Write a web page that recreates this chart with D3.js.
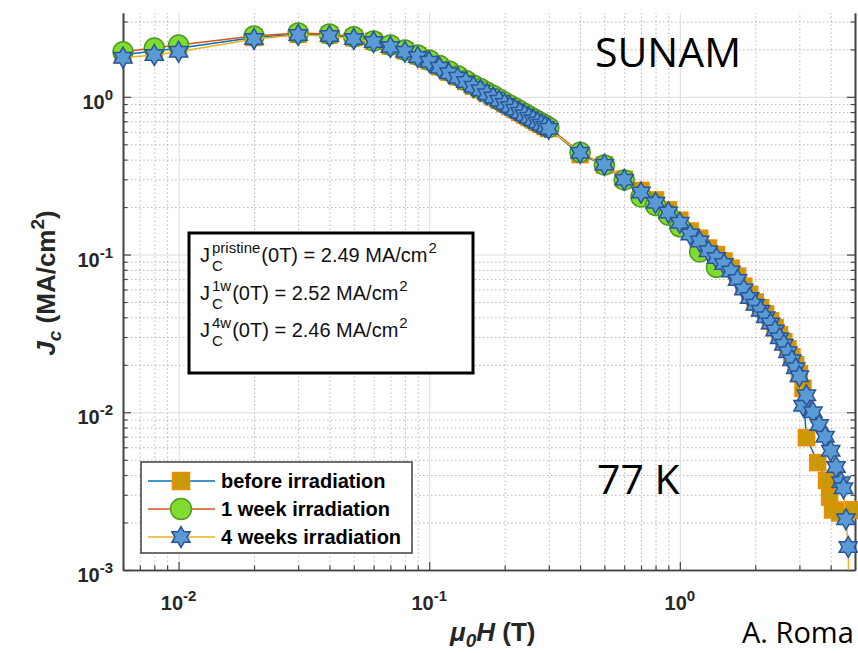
<!DOCTYPE html>
<html>
<head>
<meta charset="utf-8">
<script src="https://cdn.jsdelivr.net/npm/d3@7"></script>
<style>
  body { margin: 0; background: #fff; }
  svg { display: block; }
</style>
</head>
<body>
<script>

// svg board properties
var dimensions = { width: 858, height: 653 };
var plot = { left: 123, right: 855, top: 13, bottom: 570 };

// axis ticks (log decades)
var xTicks = [0.01, 0.1, 1];
var xTickExp = ['-2', '-1', '0'];
var yTicks = [0.001, 0.01, 0.1, 1];
var yTickExp = ['-3', '-2', '-1', '0'];

var seriesNames = ['before irradiation', '1 week irradiation', '4 weeks irradiation'];

// before irradiation (squares)
var fieldPristine = [0.006, 0.008, 0.01, 0.02, 0.03, 0.04, 0.05, 0.06, 0.07, 0.08, 0.09, 0.1,
  0.11, 0.12, 0.13, 0.14, 0.15, 0.16, 0.17, 0.18, 0.19, 0.2, 0.21, 0.22, 0.23, 0.24, 0.25,
  0.26, 0.27, 0.28, 0.29, 0.3, 0.4, 0.5, 0.6, 0.7, 0.8, 0.9, 1.0,
  1.1, 1.2, 1.3, 1.4, 1.5, 1.6, 1.7, 1.8, 1.9, 2.0, 2.1, 2.2, 2.3, 2.4, 2.5, 2.6, 2.7, 2.8, 2.9, 3.0,
  3.1, 3.2, 3.55, 3.85, 3.96, 4.07, 4.34, 4.75, 4.95];
var jcPristine = [1.85, 1.95, 2.03, 2.38, 2.49, 2.47, 2.37, 2.25, 2.10, 1.96, 1.82, 1.69,
  1.55, 1.43, 1.34, 1.25, 1.17, 1.11, 1.05, 1.0, 0.95, 0.905, 0.868, 0.832, 0.798, 0.768, 0.74,
  0.715, 0.69, 0.668, 0.648, 0.63, 0.43, 0.37, 0.30, 0.255, 0.222, 0.192, 0.165,
  0.141, 0.127, 0.110, 0.100, 0.091, 0.082, 0.073, 0.063, 0.056, 0.050, 0.046, 0.042, 0.038, 0.0345,
  0.031, 0.028, 0.0252, 0.0225, 0.020, 0.0176,
  0.0142, 0.0069, 0.0048, 0.0037, 0.0029, 0.0024, 0.0023, 0.0024, 0.0024];

// 1 week irradiation (circles)
var field1w = [0.006, 0.008, 0.01, 0.02, 0.03, 0.04, 0.05, 0.06, 0.07, 0.08, 0.09, 0.1,
  0.11, 0.12, 0.13, 0.14, 0.15, 0.16, 0.17, 0.18, 0.19, 0.2, 0.21, 0.22, 0.23, 0.24, 0.25,
  0.26, 0.27, 0.28, 0.29, 0.3, 0.4, 0.5, 0.6, 0.7, 0.8, 0.9, 1.0, 1.2, 1.4];
var jc1w = [1.93, 2.04, 2.13, 2.43, 2.54, 2.50, 2.40, 2.26, 2.13, 1.98, 1.84, 1.71,
  1.58, 1.46, 1.36, 1.27, 1.19, 1.13, 1.07, 1.02, 0.97, 0.925, 0.885, 0.85, 0.815, 0.785, 0.755,
  0.73, 0.705, 0.682, 0.662, 0.64, 0.445, 0.37, 0.297, 0.232, 0.205, 0.178, 0.150, 0.104, 0.083];

// 4 weeks irradiation (stars)
var field4w = [0.006, 0.008, 0.01, 0.02, 0.03, 0.04, 0.05, 0.06, 0.07, 0.08, 0.09, 0.1,
  0.11, 0.12, 0.13, 0.14, 0.15, 0.16, 0.17, 0.18, 0.19, 0.2, 0.21, 0.22, 0.23, 0.24, 0.25,
  0.26, 0.27, 0.28, 0.29, 0.3, 0.4, 0.5, 0.6, 0.7, 0.8, 0.9, 1.0,
  1.1, 1.2, 1.3, 1.4, 1.5, 1.6, 1.7, 1.8, 1.9, 2.0, 2.1, 2.2, 2.3, 2.4, 2.5, 2.6, 2.7, 2.8, 2.9, 3.0,
  3.1, 3.2, 3.4, 3.6, 3.8, 4.0, 4.2, 4.4, 4.5, 4.6, 4.7, 4.75];
var jc4w = [1.77, 1.84, 1.93, 2.33, 2.47, 2.43, 2.33, 2.23, 2.07, 1.93, 1.79, 1.67,
  1.53, 1.41, 1.32, 1.24, 1.16, 1.10, 1.04, 0.99, 0.944, 0.90, 0.863, 0.828, 0.794, 0.764, 0.736,
  0.711, 0.687, 0.665, 0.646, 0.627, 0.442, 0.371, 0.298, 0.247, 0.213, 0.185, 0.159,
  0.134, 0.121, 0.105, 0.095, 0.087, 0.078, 0.069, 0.060, 0.053, 0.048, 0.044, 0.040, 0.0365, 0.033,
  0.0295, 0.0268, 0.024, 0.0214, 0.019, 0.0169,
  0.0110, 0.0128, 0.0100, 0.0083, 0.0070, 0.0057, 0.0045, 0.0036, 0.0033, 0.0021, 0.0014, 0.0004];

var lineColors = ['#0072BD', '#D95319', '#EDB120'];
var font = '"Liberation Sans", Arial, Helvetica, sans-serif';

var svg = d3.select('body').append('svg')
  .attr('width', dimensions.width)
  .attr('height', dimensions.height);

var x = d3.scaleLog().domain([0.006, 5]).range([plot.left, plot.right]);
var y = d3.scaleLog().domain([0.001, 3.4]).range([plot.bottom, plot.top]);

// minor tick positions (2..9 in each decade)
var minorOf = function(scale) {
  var dom = scale.domain(), out = [];
  [0.0001, 0.001, 0.01, 0.1, 1].forEach(function(dec) {
    for (var k = 2; k < 10; k++) {
      var v = +(dec * k).toPrecision(6);
      if (v >= dom[0] * 0.999 && v <= dom[1] * 1.001) out.push(v);
    }
  });
  return out;
};
var xMinor = minorOf(x), yMinor = minorOf(y);
var plotW = plot.right - plot.left, plotH = plot.bottom - plot.top;

// grid: minor dotted, major solid
svg.append('g').attr('transform', 'translate(0,' + plot.bottom + ')')
  .call(d3.axisBottom(x).tickValues(xMinor).tickSize(-plotH).tickFormat(''))
  .call(function(g) {
    g.select('.domain').remove();
    g.selectAll('line').attr('stroke', '#b5b5b5').attr('stroke-dasharray', '1.5,2.5');
  });
svg.append('g').attr('transform', 'translate(' + plot.left + ',0)')
  .call(d3.axisLeft(y).tickValues(yMinor).tickSize(-plotW).tickFormat(''))
  .call(function(g) {
    g.select('.domain').remove();
    g.selectAll('line').attr('stroke', '#b5b5b5').attr('stroke-dasharray', '1.5,2.5');
  });
svg.append('g').attr('transform', 'translate(0,' + plot.bottom + ')')
  .call(d3.axisBottom(x).tickValues(xTicks).tickSize(-plotH).tickFormat(''))
  .call(function(g) {
    g.select('.domain').remove();
    g.selectAll('line').attr('stroke', '#dcdcdc');
  });
svg.append('g').attr('transform', 'translate(' + plot.left + ',0)')
  .call(d3.axisLeft(y).tickValues(yTicks).tickSize(-plotW).tickFormat(''))
  .call(function(g) {
    g.select('.domain').remove();
    g.selectAll('line').attr('stroke', '#dcdcdc');
  });

// axes with inward ticks
var styleAxis = function(g) {
  g.select('.domain').attr('stroke', '#444').attr('stroke-width', 1.6);
  g.selectAll('line').attr('stroke', '#444').attr('stroke-width', 1.2);
};
svg.append('g').attr('transform', 'translate(0,' + plot.bottom + ')')
  .call(d3.axisBottom(x).tickValues(xTicks).tickSize(-8).tickSizeOuter(0).tickFormat(''))
  .call(styleAxis);
svg.append('g').attr('transform', 'translate(0,' + plot.bottom + ')')
  .call(d3.axisBottom(x).tickValues(xMinor).tickSize(-4.5).tickSizeOuter(0).tickFormat(''))
  .call(styleAxis);
svg.append('g').attr('transform', 'translate(' + plot.left + ',0)')
  .call(d3.axisLeft(y).tickValues(yTicks).tickSize(-8).tickSizeOuter(0).tickFormat(''))
  .call(styleAxis);
svg.append('g').attr('transform', 'translate(' + plot.left + ',0)')
  .call(d3.axisLeft(y).tickValues(yMinor).tickSize(-4.5).tickSizeOuter(0).tickFormat(''))
  .call(styleAxis);
svg.append('g').attr('transform', 'translate(' + plot.right + ',0)')
  .call(d3.axisRight(y).tickValues(yTicks).tickSize(-8).tickSizeOuter(0).tickFormat(''))
  .call(styleAxis);
svg.append('g').attr('transform', 'translate(' + plot.right + ',0)')
  .call(d3.axisRight(y).tickValues(yMinor).tickSize(-4.5).tickSizeOuter(0).tickFormat(''))
  .call(styleAxis);

// tick labels 10^n
xTicks.forEach(function(v, i) {
  var t = svg.append('text')
    .attr('x', x(v)).attr('y', 610)
    .attr('text-anchor', 'middle')
    .attr('font-family', font).attr('font-weight', 'bold').attr('font-size', 20).attr('fill', '#262626');
  t.append('tspan').text('10');
  t.append('tspan').attr('dy', -9).attr('font-size', 15).text(xTickExp[i]);
});
yTicks.forEach(function(v, i) {
  var t = svg.append('text')
    .attr('x', 113).attr('y', y(v) + 12)
    .attr('text-anchor', 'end')
    .attr('font-family', font).attr('font-weight', 'bold').attr('font-size', 20).attr('fill', '#262626');
  t.append('tspan').text('10');
  t.append('tspan').attr('dy', -9).attr('font-size', 15).text(yTickExp[i]);
});

// axis titles
var xl = svg.append('text')
  .attr('x', 450).attr('y', 641)
  .attr('font-family', font).attr('font-weight', 'bold').attr('font-size', 26).attr('fill', '#262626');
xl.append('tspan').attr('font-style', 'italic').text('\u03bc');
xl.append('tspan').attr('font-style', 'italic').attr('font-size', 19).attr('dy', 6).text('0');
xl.append('tspan').attr('font-style', 'italic').attr('dy', -6).text('H');
xl.append('tspan').text(' (T)');

var yl = svg.append('text')
  .attr('transform', 'translate(55,283) rotate(-90)')
  .attr('text-anchor', 'middle')
  .attr('font-family', font).attr('font-weight', 'bold').attr('font-size', 26).attr('fill', '#262626');
yl.append('tspan').attr('font-style', 'italic').text('J');
yl.append('tspan').attr('font-style', 'italic').attr('font-size', 19).attr('dy', 6).text('c');
yl.append('tspan').attr('dy', -6).text(' (MA/cm');
yl.append('tspan').attr('font-size', 19).attr('dy', -11).text('2');
yl.append('tspan').attr('dy', 11).text(')');

// markers
var hexagram = function(R) {
  var pts = [];
  for (var i = 0; i < 12; i++) {
    var a = -Math.PI / 2 + i * Math.PI / 6;
    var r = i % 2 === 0 ? R : R / Math.sqrt(3);
    pts.push([r * Math.cos(a), r * Math.sin(a)]);
  }
  return 'M' + pts.join('L') + 'Z';
};
var drawMarker = function(g, kind, size) {
  if (kind === 0) {
    g.append('rect').attr('x', -size / 2).attr('y', -size / 2).attr('width', size).attr('height', size)
      .attr('fill', '#c99a06').attr('stroke', '#f28a00').attr('stroke-width', 1.5);
  } else if (kind === 1) {
    g.append('circle').attr('r', size / 2)
      .attr('fill', '#80dd30').attr('stroke', '#4f9a25').attr('stroke-width', 1.5);
  } else {
    g.append('path').attr('d', hexagram(size / 2))
      .attr('fill', '#5b9bd5').attr('stroke', '#2a5597').attr('stroke-width', 1.5);
  }
};
var markerSize = [16, 20, 21];

svg.append('clipPath').attr('id', 'clip')
  .append('rect').attr('x', plot.left).attr('y', plot.top).attr('width', plotW).attr('height', plotH);

var series = [
  { xs: fieldPristine, ys: jcPristine },
  { xs: field1w, ys: jc1w },
  { xs: field4w, ys: jc4w }
];

var line = d3.line()
  .x(function(d) { return x(d[0]); })
  .y(function(d) { return y(d[1]); });

series.forEach(function(s, k) {
  var pts = s.xs.map(function(v, i) { return [v, s.ys[i]]; });
  svg.append('path')
    .datum(pts)
    .attr('clip-path', 'url(#clip)')
    .attr('fill', 'none')
    .attr('stroke', lineColors[k])
    .attr('stroke-width', 1.5)
    .attr('d', line);
  var inside = pts.filter(function(d) { return d[1] >= y.domain()[0] && d[0] <= x.domain()[1]; });
  svg.append('g').selectAll('g')
    .data(inside)
    .enter()
    .append('g')
    .attr('transform', function(d) { return 'translate(' + x(d[0]) + ',' + y(d[1]) + ')'; })
    .each(function() { drawMarker(d3.select(this), k, markerSize[k]); });
});

// legend
var legend = svg.append('g');
legend.append('rect')
  .attr('x', 141).attr('y', 462).attr('width', 271).attr('height', 91)
  .attr('fill', '#fff').attr('stroke', '#404040').attr('stroke-width', 1.5);
seriesNames.forEach(function(name, k) {
  var cy = 481 + k * 28;
  legend.append('line')
    .attr('x1', 148).attr('x2', 215).attr('y1', cy).attr('y2', cy)
    .attr('stroke', lineColors[k]).attr('stroke-width', 1.5);
  var m = legend.append('g').attr('transform', 'translate(181,' + cy + ')');
  drawMarker(m, k, k === 0 ? 17 : 21);
  legend.append('text')
    .attr('x', 221).attr('y', cy + 6.5)
    .attr('font-family', font).attr('font-weight', 'bold').attr('font-size', 20).attr('fill', '#000')
    .text(name);
});

// annotation box with Jc(0T) values
var noteSup = ['pristine', '1w', '4w'];
var noteVal = ['2.49', '2.52', '2.46'];
var note = svg.append('g');
note.append('rect')
  .attr('x', 189).attr('y', 233).attr('width', 284).attr('height', 140)
  .attr('fill', '#fff').attr('stroke', '#000').attr('stroke-width', 3);
noteSup.forEach(function(sup, i) {
  var yb = 262 + i * 37.5;
  var t = function(xp, yp, size, str) {
    return note.append('text').attr('x', xp).attr('y', yp)
      .attr('font-family', font).attr('font-size', size).attr('fill', '#111').text(str);
  };
  var j = t(200, yb, 20, 'J');
  var xs = 200 + j.node().getComputedTextLength() + 2;
  var c = t(xs, yb + 9, 15, 'C');
  var s = t(xs, yb - 9, 15, sup);
  var w = Math.max(c.node().getComputedTextLength(), s.node().getComputedTextLength());
  var r = t(xs + w + 1, yb, 20, '(0T) = ' + noteVal[i] + ' MA/cm');
  t(xs + w + 2 + r.node().getComputedTextLength(), yb - 9, 15, '2');
});

// labels on the slide
var slideFont = '"Open Sans", "Noto Sans", sans-serif';
svg.append('text').attr('x', 595).attr('y', 67)
  .attr('font-family', slideFont).attr('font-size', 41).attr('fill', '#000').text('SUNAM');
svg.append('text').attr('x', 597).attr('y', 494)
  .attr('font-family', slideFont).attr('font-size', 41).attr('fill', '#000').text('77 K');
svg.append('text').attr('x', 742).attr('y', 643)
  .attr('font-family', slideFont).attr('font-size', 29).attr('fill', '#000').text('A. Roma');

</script>
</body>
</html>
